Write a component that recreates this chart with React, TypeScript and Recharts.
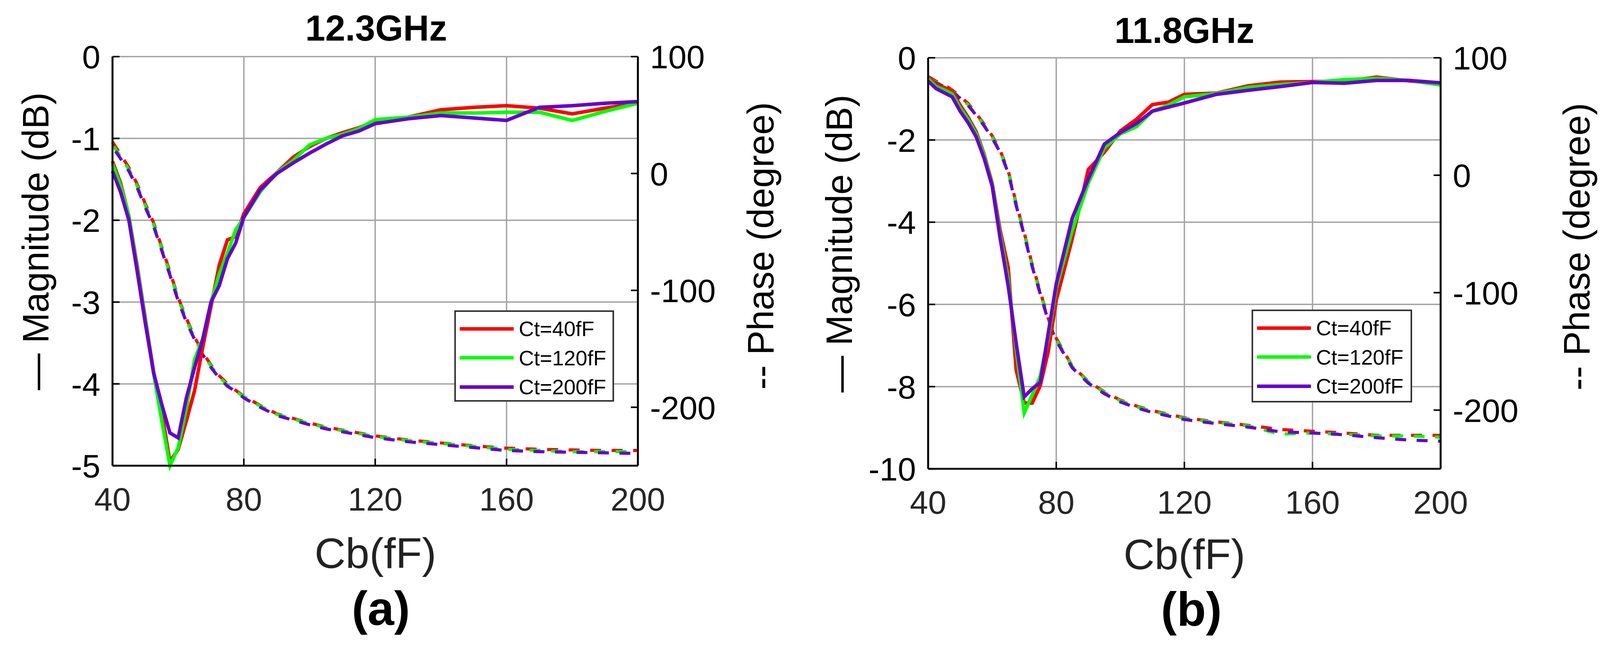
import { LineChart, Line, XAxis, YAxis, CartesianGrid } from 'recharts'

const FONT = '"Liberation Sans", Arial, sans-serif'
const RED = '#ff0000'
const GREEN = '#00ff00'
const PURPLE = '#6600cc'

// Cb sweep (fF), shared by both panels
const CB = [40, 42.5, 45, 47.5, 50, 52.5, 55, 57.5, 60, 62.5, 65, 67.5, 70, 72.5, 75, 77.5, 80, 85, 90, 95, 100, 105, 110, 115, 120, 130, 140, 150, 160, 170, 180, 190, 200]
const X_TICKS = [40, 80, 120, 160, 200]
const PHASE_TICKS = [-200, -100, 0, 100]

// (a) 12.3GHz
const MAG_A_40 = [-1.28, -1.55, -1.95, -2.55, -3.2, -3.85, -4.35, -4.95, -4.8, -4.45, -4.08, -3.55, -3.05, -2.55, -2.24, -2.2, -1.92, -1.6, -1.42, -1.23, -1.1, -1.0, -0.93, -0.87, -0.79, -0.74, -0.65, -0.62, -0.6, -0.63, -0.7, -0.63, -0.57]
const MAG_A_120 = [-1.31, -1.58, -1.95, -2.58, -3.22, -3.87, -4.45, -5.0, -4.78, -4.3, -3.7, -3.45, -3.0, -2.66, -2.4, -2.12, -1.97, -1.65, -1.42, -1.27, -1.08, -1.0, -0.95, -0.88, -0.77, -0.74, -0.69, -0.69, -0.68, -0.68, -0.78, -0.67, -0.57]
const MAG_A_200 = [-1.4, -1.66, -2.0, -2.62, -3.26, -3.86, -4.25, -4.6, -4.66, -4.17, -3.8, -3.45, -3.0, -2.8, -2.47, -2.28, -1.96, -1.63, -1.43, -1.3, -1.18, -1.07, -0.97, -0.91, -0.82, -0.76, -0.72, -0.75, -0.78, -0.62, -0.6, -0.57, -0.55]
const PH_A_40 = [27, 16, 5, -9, -26, -42, -63, -84, -106, -124, -140, -153, -164, -173, -180, -185.5, -190.5, -198.5, -205.5, -209.5, -213.5, -217, -219.5, -222, -224.5, -228, -230.5, -233, -235, -236, -236.5, -237, -237]
const PH_A_120 = [25, 14, 3.5, -10.5, -27.5, -43.5, -64.5, -85.5, -107, -125.5, -141, -154, -165, -174, -181, -186, -191, -199, -206, -210, -214, -217.5, -220, -222.5, -225, -228.5, -231, -233.5, -236, -237, -238, -238, -238]
const PH_A_200 = [23, 12.5, 2, -12, -29, -45, -66, -87, -109, -127, -142, -155, -166, -175, -182, -186.5, -192, -200, -207, -211, -215, -218.5, -221, -223.5, -226, -229.5, -232, -234.5, -237, -238, -238.5, -239, -239.5]

// (b) 11.8GHz
const MAG_B_40 = [-0.46, -0.65, -0.72, -0.82, -1.15, -1.45, -1.8, -2.35, -3.05, -4.2, -5.1, -7.6, -8.4, -8.4, -7.98, -7.15, -5.9, -4.4, -2.72, -2.3, -1.78, -1.5, -1.14, -1.08, -0.89, -0.86, -0.68, -0.59, -0.58, -0.57, -0.47, -0.56, -0.64]
const MAG_B_120 = [-0.51, -0.7, -0.78, -0.88, -1.22, -1.5, -1.85, -2.38, -3.08, -4.3, -5.4, -7.1, -8.64, -8.2, -7.75, -6.8, -5.6, -4.2, -3.05, -2.2, -1.85, -1.68, -1.3, -1.15, -0.95, -0.87, -0.72, -0.65, -0.6, -0.53, -0.5, -0.55, -0.66]
const MAG_B_200 = [-0.57, -0.75, -0.85, -0.95, -1.3, -1.58, -1.92, -2.45, -3.12, -4.4, -5.55, -6.95, -8.25, -8.05, -7.9, -6.7, -5.5, -3.9, -2.95, -2.1, -1.82, -1.6, -1.3, -1.2, -1.1, -0.89, -0.79, -0.7, -0.6, -0.62, -0.55, -0.55, -0.61]
const PH_B_40 = [84, 80, 77, 72.5, 67, 61, 52.5, 43.5, 33.5, 21, 4, -24, -49, -76, -99, -122, -139, -162.5, -175.5, -184.5, -191.5, -196.5, -200.5, -203.5, -206.5, -210, -213, -216.5, -218, -219.5, -221.5, -221.5, -221.5]
const PH_B_120 = [83, 79, 76, 71.5, 66, 60, 51.5, 42.5, 32.5, 20, 3, -25, -50, -77, -100, -123, -140, -163, -176, -185, -192, -197, -201, -204, -207, -210.5, -213.5, -220.5, -219.5, -220.5, -222, -222, -223]
const PH_B_200 = [82, 78.5, 75.5, 71, 65.5, 59.4, 51, 42, 31.5, 19.5, 2, -26, -51, -78, -101, -124, -141, -164, -177, -186, -193, -198, -202, -205, -208, -211.5, -214.5, -218.5, -219.5, -221, -223.5, -225.5, -226.5]

const SERIES = [
  { key: 'ct40', name: 'Ct=40fF', color: RED, dashOffset: 0 },
  { key: 'ct120', name: 'Ct=120fF', color: GREEN, dashOffset: -7 },
  { key: 'ct200', name: 'Ct=200fF', color: PURPLE, dashOffset: -14 },
]

function rows(mag: number[][], ph: number[][]) {
  return CB.map((cb, i) => ({
    cb,
    mag_ct40: mag[0][i], mag_ct120: mag[1][i], mag_ct200: mag[2][i],
    ph_ct40: ph[0][i], ph_ct120: ph[1][i], ph_ct200: ph[2][i],
  }))
}

const DATA_A = rows([MAG_A_40, MAG_A_120, MAG_A_200], [PH_A_40, PH_A_120, PH_A_200])
const DATA_B = rows([MAG_B_40, MAG_B_120, MAG_B_200], [PH_B_40, PH_B_120, PH_B_200])

const TICK_FS = 84
const GAP = 31
const TICK_LEN = 18

function LeftTick({ x, y, payload }: any) {
  return (
    <g>
      <line x1={x + GAP} x2={x + GAP + TICK_LEN} y1={y} y2={y} stroke="#000" strokeWidth={4} />
      <text x={x} y={y} dy="0.36em" textAnchor="end" fontSize={TICK_FS} fontFamily={FONT} fill="#000">{payload.value}</text>
    </g>
  )
}

function RightTick({ x, y, payload }: any) {
  return (
    <g>
      <line x1={x - GAP} x2={x - GAP - TICK_LEN} y1={y} y2={y} stroke="#000" strokeWidth={4} />
      <text x={x} y={y} dy="0.36em" textAnchor="start" fontSize={TICK_FS} fontFamily={FONT} fill="#000">{payload.value}</text>
    </g>
  )
}

const X_GAP = 55
function BottomTick({ x, y, payload }: any) {
  return (
    <g>
      <line x1={x} x2={x} y1={y - X_GAP} y2={y - X_GAP - TICK_LEN} stroke="#000" strokeWidth={4} />
      <text x={x} y={y} dy="0.71em" textAnchor="middle" fontSize={TICK_FS} fontFamily={FONT} fill="#262626">{payload.value}</text>
    </g>
  )
}

function LegendBox({ left, top, width, height }: { left: number; top: number; width: number; height: number }) {
  return (
    <div style={{ position: 'absolute', left, top, width, height, boxSizing: 'border-box', border: '4px solid #333', background: '#fff' }}>
      {SERIES.map((s, i) => (
        <div key={s.key} style={{ position: 'absolute', left: 10, top: 43 + i * 74.5 - 30, height: 60, display: 'flex', alignItems: 'center' }}>
          <div style={{ width: 138, height: 9, background: s.color }} />
          <span style={{ marginLeft: 13, fontSize: 54, fontFamily: FONT, color: '#000', lineHeight: 1, whiteSpace: 'nowrap' }}>{s.name}</span>
        </div>
      ))}
    </div>
  )
}

interface PanelProps {
  data: any[]
  width: number
  margin: { top: number; right: number; bottom: number; left: number }
  magDomain: [number, number]
  magTicks: number[]
}

function Panel({ data, width, margin, magDomain, magTicks }: PanelProps) {
  return (
    <LineChart width={width} height={1660} data={data} margin={margin}>
      <CartesianGrid xAxisId="x" yAxisId="mag" stroke="#a3a3a3" strokeWidth={3.5} />
      <XAxis xAxisId="x" dataKey="cb" type="number" domain={[40, 200]} ticks={X_TICKS} interval={0}
        height={100} tickSize={0} tickMargin={X_GAP} tick={<BottomTick />} axisLine={{ stroke: '#111', strokeWidth: 5 }} />
      <YAxis yAxisId="mag" orientation="left" domain={magDomain} ticks={magTicks} interval={0}
        width={100} tickSize={0} tickMargin={GAP} tick={<LeftTick />} axisLine={{ stroke: '#000', strokeWidth: 5 }} />
      <YAxis yAxisId="ph" orientation="right" domain={[-250, 100]} ticks={PHASE_TICKS} interval={0}
        width={100} tickSize={0} tickMargin={GAP} tick={<RightTick />} axisLine={{ stroke: '#000', strokeWidth: 5 }} />
      {SERIES.map((s) => (
        <Line key={'ph' + s.key} xAxisId="x" yAxisId="ph" type="linear" dataKey={'ph_' + s.key} stroke={s.color}
          strokeWidth={8} strokeDasharray="28 27" strokeDashoffset={s.dashOffset} dot={false} isAnimationActive={false} />
      ))}
      {SERIES.map((s) => (
        <Line key={'mag' + s.key} xAxisId="x" yAxisId="mag" type="linear" dataKey={'mag_' + s.key} stroke={s.color}
          strokeWidth={9} dot={false} isAnimationActive={false} />
      ))}
    </LineChart>
  )
}

function Txt({ x, y, size, bold, color, rotate, children }: any) {
  return (
    <div style={{
      position: 'absolute', left: x, top: y, fontSize: size, fontFamily: FONT, fontWeight: bold ? 700 : 400,
      color: color || '#000', lineHeight: 1, whiteSpace: 'nowrap',
      transform: `translate(-50%, -50%)${rotate ? ' rotate(-90deg)' : ''}`,
    }}>{children}</div>
  )
}

export default function App() {
  return (
    <div style={{ position: 'absolute', left: 0, top: 0, width: 4114, height: 1660, background: '#fff', overflow: 'hidden' }}>
      <div style={{ position: 'absolute', left: 0, top: 0 }}>
        <Panel data={DATA_A} width={2057} margin={{ top: 145, right: 324, bottom: 367, left: 188 }}
          magDomain={[-5, 0]} magTicks={[-5, -4, -3, -2, -1, 0]} />
      </div>
      <div style={{ position: 'absolute', left: 2057, top: 0 }}>
        <Panel data={DATA_B} width={2057} margin={{ top: 148, right: 326, bottom: 359, left: 219 }}
          magDomain={[-10, 0]} magTicks={[-10, -8, -6, -4, -2, 0]} />
      </div>

      <LegendBox left={1163} top={795} width={409} height={234} />
      <LegendBox left={3204} top={793} width={411} height={238} />

      <Txt x={963} y={72} size={92} bold>12.3GHz</Txt>
      <Txt x={3032} y={78} size={92} bold>11.8GHz</Txt>

      <Txt x={92} y={618} size={94} rotate>— Magnitude (dB)</Txt>
      <Txt x={1948} y={630} size={94} rotate>-- Phase (degree)</Txt>
      <Txt x={2149} y={624} size={94} rotate>— Magnitude (dB)</Txt>
      <Txt x={4037} y={632} size={94} rotate>-- Phase (degree)</Txt>

      <Txt x={961} y={1417} size={110} color="#222">Cb(fF)</Txt>
      <Txt x={3032} y={1420} size={110} color="#222">Cb(fF)</Txt>

      <Txt x={975} y={1559} size={122} bold>(a)</Txt>
      <Txt x={3050} y={1561} size={122} bold>(b)</Txt>
    </div>
  )
}
